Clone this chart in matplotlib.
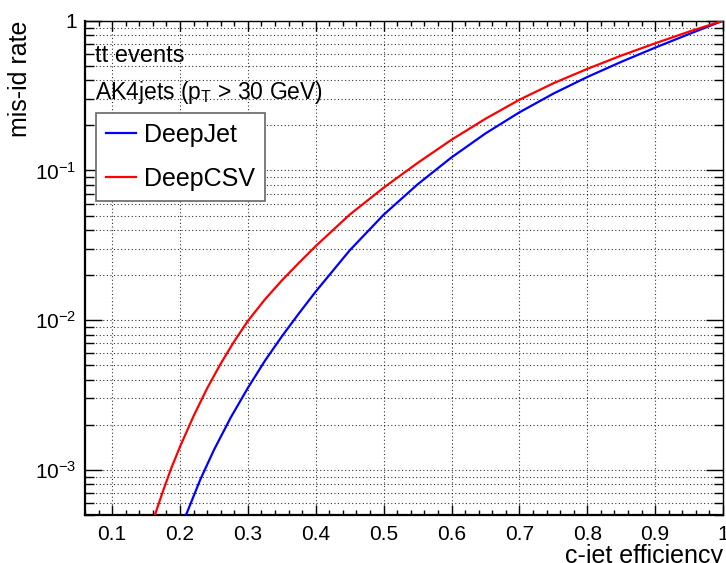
import matplotlib
matplotlib.use("Agg")
import matplotlib.pyplot as plt
from matplotlib.ticker import FixedLocator, NullFormatter

plt.rcParams['font.family'] = ['Liberation Sans', 'DejaVu Sans']
plt.rcParams['mathtext.fontset'] = 'custom'
plt.rcParams['mathtext.rm'] = 'Liberation Sans'
plt.rcParams['mathtext.it'] = 'Liberation Sans:italic'
plt.rcParams['mathtext.bf'] = 'Liberation Sans:bold'

# ---- data ----
deepcsv_eff = [0.163, 0.175, 0.187, 0.20, 0.22, 0.24, 0.26, 0.28, 0.30, 0.325, 0.35, 0.375,
               0.40, 0.45, 0.50, 0.55, 0.60, 0.65, 0.70, 0.75, 0.80, 0.85, 0.90, 0.95, 1.00]
deepcsv_mis = [5.0e-4, 7.24e-4, 1.023e-3, 1.43e-3, 2.29e-3, 3.51e-3, 5.13e-3, 7.24e-3,
               9.89e-3, 0.01374, 0.01841, 0.0241, 0.03126, 0.0507, 0.0767, 0.1122, 0.1603,
               0.2213, 0.2965, 0.382, 0.4764, 0.5848, 0.7063, 0.8453, 1.0]

deepjet_eff = [0.206, 0.21, 0.23, 0.25, 0.275, 0.30, 0.325, 0.35, 0.375, 0.40, 0.45,
               0.50, 0.55, 0.60, 0.65, 0.70, 0.75, 0.80, 0.85, 0.90, 0.95, 1.00]
deepjet_mis = [4.8e-4, 5.15e-4, 8.65e-4, 1.36e-3, 2.25e-3, 3.53e-3, 5.35e-3, 7.79e-3,
               0.01107, 0.01554, 0.02926, 0.0506, 0.0807, 0.1222, 0.1766, 0.2443, 0.3258,
               0.4207, 0.5309, 0.6607, 0.8147, 1.0]

series_labels = ["DeepJet", "DeepCSV"]
x_ticks = [0.1, 0.2, 0.3, 0.4, 0.5, 0.6, 0.7, 0.8, 0.9, 1.0]
x_ticklabels = ["0.1", "0.2", "0.3", "0.4", "0.5", "0.6", "0.7", "0.8", "0.9", "1"]
y_ticks = [1e-3, 1e-2, 1e-1, 1.0]
y_ticklabels = [r"$\mathregular{10^{-3}}$", r"$\mathregular{10^{-2}}$",
                r"$\mathregular{10^{-1}}$", "1"]

# ---- figure ----
W, H = 726, 563
fig = plt.figure(figsize=(W / 100, H / 100), dpi=100)
L, R, T, B = 85, 723, 20.7, 515
ax = fig.add_axes([L / W, 1 - B / H, (R - L) / W, (B - T) / H])

ax.set_yscale('log')
ax.set_xlim(0.06, 1.0)
ax.set_ylim(5e-4, 1.0)

ax.plot(deepjet_eff, deepjet_mis, color=(0, 0, 1), lw=1.6, label=series_labels[0],
        zorder=3, solid_joinstyle='round')
ax.plot(deepcsv_eff, deepcsv_mis, color=(1, 0, 0), lw=1.6, label=series_labels[1],
        zorder=3, solid_joinstyle='round')

# ticks
ax.xaxis.set_major_locator(FixedLocator(x_ticks))
ax.set_xticklabels(x_ticklabels)
minor_x = [0.06 + 0.02 * i for i in range(48)]
ax.xaxis.set_minor_locator(FixedLocator([v for v in minor_x if v <= 1.0001]))
ax.yaxis.set_major_locator(FixedLocator(y_ticks))
ax.set_yticklabels(y_ticklabels)
minor_y = [m * 10.0 ** e for e in (-4, -3, -2, -1) for m in range(2, 10)]
minor_y = [v for v in minor_y if 5e-4 <= v < 1.0]
ax.yaxis.set_minor_locator(FixedLocator(minor_y))
ax.yaxis.set_minor_formatter(NullFormatter())

ax.tick_params(axis='both', which='both', direction='in', top=True, right=True,
               labelsize=15, colors='black')
ax.tick_params(axis='x', which='major', length=7.2, width=1.0, pad=7)
ax.tick_params(axis='x', which='minor', length=3.6, width=1.0)
ax.tick_params(axis='y', which='major', length=12.2, width=1.0, pad=6)
ax.tick_params(axis='y', which='minor', length=6.5, width=1.0)

# grid
grid_kw = dict(color='black', linestyle=(0, (1, 2.2)), linewidth=0.8, alpha=0.8)
ax.grid(True, which='major', axis='x', **grid_kw)
ax.grid(True, which='both', axis='y', **grid_kw)
ax.set_axisbelow(True)

for s in ('left', 'bottom'):
    ax.spines[s].set_linewidth(1.6)
for s in ('top', 'right'):
    ax.spines[s].set_linewidth(1.0)

# axis titles
fig.text(R / W, 1 - 556 / H, "c-jet efficiency", ha='right', va='center', fontsize=18)
fig.text(20 / W, 1 - T / H, "mis-id rate", ha='center', va='top', rotation=90, fontsize=18)

# annotations
fig.text(95 / W, 1 - 56 / H, "tt events", ha='left', va='center', fontsize=17)
fig.text(95 / W, 1 - 92 / H, r"AK4jets (p$_{\mathregular{T}}$ > 30 GeV)",
         ha='left', va='center', fontsize=16.5)

leg = ax.legend(loc='upper left', bbox_to_anchor=((96 - L) / (R - L), (B - 113) / (B - T)),
                fontsize=18, frameon=True, fancybox=False, edgecolor='#666666',
                framealpha=1.0, borderaxespad=0.0, borderpad=0.4, handlelength=1.2,
                handletextpad=0.3, labelspacing=0.8)
leg.get_frame().set_linewidth(1.2)

fig.savefig("out.png", dpi=100)
